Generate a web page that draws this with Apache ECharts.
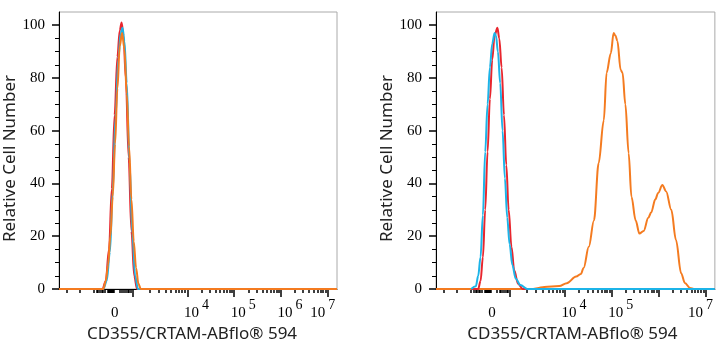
<!DOCTYPE html>
<html>
<head>
<meta charset="utf-8">
<script src="https://cdn.jsdelivr.net/npm/echarts@6/dist/echarts.min.js"></script>
<style>
  html, body { margin: 0; padding: 0; background: #fff; }
  #chart { width: 726px; height: 350px; }
</style>
</head>
<body>
<div id="chart"></div>
<script>
// x is in display units of the logicle axis: 0 sits at 2.4, 10^n sits at n
const xMin = 1.25, xMax = 7.2;
const zeroPos = 2.4;
const decadeStarts = [2.83, 4, 5, 6, 7];
const leftLabelPos = [2.4, 4, 5, 6, 7];
const rightLabelPos = [2.4, 4, 5, 7];
const nearZeroTicks = [1.42, 1.7, 2.0, 2.05, 2.09, 2.13, 2.16, 2.19, 2.22, 2.3, 2.31, 2.32, 2.33, 2.34, 2.35, 2.36, 2.37, 2.38, 2.39, 2.4, 2.41, 2.42, 2.55, 2.6, 2.64, 2.68, 2.72, 2.75, 2.78];
const yMajor = [0, 20, 40, 60, 80, 100];
const yMinor = [5, 10, 15, 25, 30, 35, 45, 50, 55, 65, 70, 75, 85, 90, 95];

// left panel
const leftRedX = [1.25, 2.18, 2.25, 2.32, 2.38, 2.44, 2.5, 2.55, 2.59, 2.63, 2.68, 2.74, 2.8, 2.86, 2.92, 7.2];
const leftRedY = [0, 0, 3, 15, 38, 66, 88, 98, 101, 96, 80, 50, 22, 5, 0, 0];
const leftCyanX = [1.25, 2.2, 2.27, 2.34, 2.4, 2.46, 2.52, 2.57, 2.61, 2.65, 2.7, 2.76, 2.82, 2.88, 2.94, 7.2];
const leftCyanY = [0, 0, 3, 14, 37, 65, 87, 97, 99, 94, 78, 48, 21, 5, 0, 0];
const leftOrangeX = [1.25, 2.2, 2.25, 2.3, 2.35, 2.4, 2.45, 2.5, 2.55, 2.6, 2.65, 2.7, 2.75, 2.8, 2.85, 2.9, 2.95, 3.0, 7.2];
const leftOrangeY = [0, 0, 3, 9, 20, 35, 55, 76, 92, 97, 91, 74, 54, 34, 18, 8, 2, 0, 0];

// right panel
const rightOrangeX = [1.25, 3.3, 3.41, 3.56, 3.88, 4.04, 4.24, 4.34, 4.4, 4.51, 4.62, 4.72, 4.83, 4.89, 4.98, 5.04, 5.08, 5.12, 5.19, 5.23, 5.29, 5.36, 5.42, 5.51, 5.59, 5.68, 5.78, 5.84, 5.93, 5.99, 6.08, 6.16, 6.27, 6.37, 6.48, 6.56, 6.67, 6.75, 7.2];
const rightOrangeY = [0, 0, 0.3, 0.8, 1.1, 2.2, 4.7, 5.7, 8, 16, 26, 47.7, 64, 82, 89.4, 97, 96, 94, 83, 82, 70, 51.5, 35, 26, 21, 22, 27, 29, 34, 36.4, 39.4, 37, 30, 18.6, 6, 2.3, 0.4, 0, 0];
const rightRedX = [2.0, 2.15, 2.2, 2.25, 2.3, 2.35, 2.4, 2.45, 2.5, 2.56, 2.6, 2.65, 2.7, 2.75, 2.8, 2.86, 2.92, 3.0, 3.1, 7.2];
const rightRedY = [0, 0, 3, 12, 30, 52, 72, 87, 96, 99, 95, 84, 66, 47, 30, 16, 7, 2, 0, 0];
const rightCyanX = [2.0, 2.1, 2.15, 2.2, 2.25, 2.3, 2.35, 2.4, 2.45, 2.5, 2.53, 2.57, 2.62, 2.67, 2.72, 2.77, 2.82, 2.88, 2.95, 3.05, 3.2, 7.2];
const rightCyanY = [0, 1, 5, 12, 28, 52, 70, 84, 93, 97, 96, 90, 78, 60, 42, 27, 17, 9, 4, 1.5, 0, 0];

const colors = { red: '#e8262e', cyan: '#1cb4e8', orange: '#f47b20' };

// minor ticks: log steps inside each decade plus the linear part near zero
let xMinorTicks = nearZeroTicks.slice();
for (let i = 0; i < decadeStarts.length; i++) {
  let d0 = decadeStarts[i];
  let d1 = i < decadeStarts.length - 1 ? decadeStarts[i + 1] : d0 + 1;
  for (let k = 2; k <= 9; k++) {
    let v = d0 + Math.log10(k) * (d1 - d0);
    if (v < xMax) xMinorTicks.push(v);
  }
}

function zip(xs, ys) {
  return xs.map(function (x, i) { return [x, ys[i]]; });
}

const serif = 'Liberation Serif';
const nameFont = { fontFamily: 'Noto Sans', fontSize: 17, color: '#222' };

function xAxes(gridIndex, labelPos, namePad) {
  return [{
    type: 'value', gridIndex: gridIndex, min: xMin, max: xMax, position: 'bottom',
    name: 'CD355/CRTAM-ABflo® 594', nameLocation: 'middle', nameGap: 36,
    nameTextStyle: Object.assign({ padding: [0, namePad, 0, 0] }, nameFont),
    splitLine: { show: false },
    axisLine: { show: true, onZero: false, lineStyle: { color: '#000', width: 1 } },
    axisTick: { show: true, customValues: decadeStarts, length: 8, lineStyle: { color: '#000', width: 1.5 } },
    axisLabel: {
      customValues: labelPos, margin: 9,
      formatter: function (v) {
        if (Math.abs(v - zeroPos) < 0.01) return '{z|0}';
        if (Math.round(v) === 7) return '{b|10}{e|7}';
        return '{m|10}{s|' + Math.round(v) + '}';
      },
      rich: {
        z: { fontFamily: serif, fontSize: 15, color: '#000', lineHeight: 23, verticalAlign: 'bottom', padding: [0, 0, 0, 4] },
        b: { fontFamily: serif, fontSize: 15, color: '#000', lineHeight: 23, verticalAlign: 'bottom' },
        m: { fontFamily: serif, fontSize: 15, color: '#000', lineHeight: 23, verticalAlign: 'bottom', padding: [0, 0, 0, 18] },
        s: { fontFamily: serif, fontSize: 14, color: '#000', lineHeight: 14, verticalAlign: 'top', padding: [0, 0, 0, 3] },
        e: { fontFamily: serif, fontSize: 14, color: '#000', lineHeight: 14, verticalAlign: 'top', padding: [0, 10, 0, 3] }
      }
    }
  }, {
    type: 'value', gridIndex: gridIndex, min: xMin, max: xMax, position: 'bottom',
    splitLine: { show: false },
    axisLine: { show: false, onZero: false },
    axisTick: { show: true, customValues: xMinorTicks, length: 4, lineStyle: { color: '#000', width: 1.5 } },
    axisLabel: { show: false }
  }];
}

function yAxes(gridIndex, nameGap) {
  return [{
    type: 'value', gridIndex: gridIndex, min: 0, max: 105, position: 'left',
    name: 'Relative Cell Number', nameLocation: 'middle', nameGap: nameGap,
    nameTextStyle: Object.assign({ padding: [0, 16, 0, 0] }, nameFont),
    splitLine: { show: false },
    axisLine: { show: true, onZero: false, lineStyle: { color: '#000', width: 1 } },
    axisTick: { show: true, customValues: yMajor, length: 7, lineStyle: { color: '#000', width: 1.5 } },
    axisLabel: { customValues: yMajor, margin: 14, fontFamily: serif, fontSize: 15, color: '#000' }
  }, {
    type: 'value', gridIndex: gridIndex, min: 0, max: 105, position: 'left',
    splitLine: { show: false },
    axisLine: { show: false, onZero: false },
    axisTick: { show: true, customValues: yMinor, length: 4, lineStyle: { color: '#000', width: 1 } },
    axisLabel: { show: false }
  }];
}

function line(xi, yi, xs, ys, color) {
  return {
    type: 'line', xAxisIndex: xi, yAxisIndex: yi,
    data: zip(xs, ys), showSymbol: false, smooth: 0.35, smoothMonotone: 'x',
    lineStyle: { color: color, width: 2 }, silent: true, animation: false
  };
}

let chart = echarts.init(document.getElementById('chart'));
let option = {
  backgroundColor: '#fff',
  animation: false,
  grid: [
    { left: 59, right: 389, top: 12, bottom: 61, show: true, borderColor: '#aaa', borderWidth: 1 },
    { left: 436, right: 9, top: 12, bottom: 61, show: true, borderColor: '#aaa', borderWidth: 1 }
  ],
  xAxis: xAxes(0, leftLabelPos, 12).concat(xAxes(1, rightLabelPos, 6)),
  yAxis: yAxes(0, 26).concat(yAxes(1, 32)),
  series: [
    line(0, 0, leftRedX, leftRedY, colors.red),
    line(0, 0, leftCyanX, leftCyanY, colors.cyan),
    line(0, 0, leftOrangeX, leftOrangeY, colors.orange),
    line(2, 2, rightOrangeX, rightOrangeY, colors.orange),
    line(2, 2, rightRedX, rightRedY, colors.red),
    line(2, 2, rightCyanX, rightCyanY, colors.cyan)
  ]
};
chart.setOption(option);
</script>
</body>
</html>
